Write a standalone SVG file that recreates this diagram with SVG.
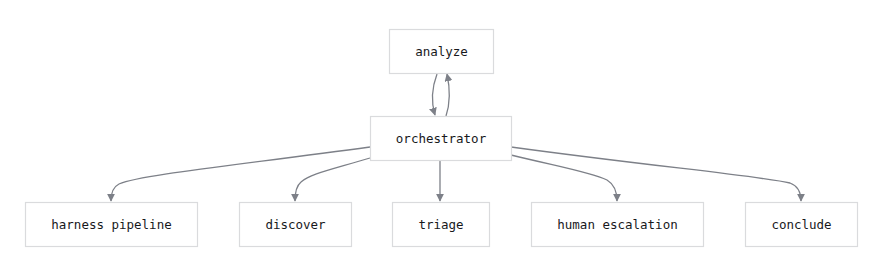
<svg xmlns="http://www.w3.org/2000/svg" width="882" height="265" viewBox="0 0 882 265">
<style>
.box{fill:#ffffff;stroke:#dadbdd;stroke-width:1.2}
.lbl{font-family:"DejaVu Sans Mono","Liberation Mono",monospace;font-size:12.5px;fill:#18191c;text-anchor:middle;dominant-baseline:central}
.edge{fill:none;stroke:#7d8088;stroke-width:1.3}
</style>
<defs>
<marker id="ah" viewBox="0 0 10 10" refX="9" refY="5" markerWidth="8" markerHeight="8" markerUnits="userSpaceOnUse" orient="auto">
<path d="M0,0 L10,5 L0,10 z" fill="#7d8088"/>
</marker>
</defs>
<rect width="882" height="265" fill="#ffffff"/>
<g id="connectors">
<path class="edge" marker-end="url(#ah)" d="M437,74 C431,90 431,102 435,115"/>
<path class="edge" marker-end="url(#ah)" d="M446,116 C450,104 450,88 447,74"/>
<path class="edge" marker-end="url(#ah)" d="M370,147 C230,166 140,175 119,184 Q111,188 111,201"/>
<path class="edge" marker-end="url(#ah)" d="M370,158 C330,170 310,174 301,182 Q295,187 295,201"/>
<path class="edge" marker-end="url(#ah)" d="M440,160 L440,201"/>
<path class="edge" marker-end="url(#ah)" d="M511,155 C560,167 590,172 607,180 Q617,186 617,201"/>
<path class="edge" marker-end="url(#ah)" d="M511,147 C650,166 760,176 790,183 Q801,187 801,201"/>
</g>
<g id="analyze"><rect class="box" x="389.5" y="29.5" width="104" height="44"/><text class="lbl" x="441.5" y="51.5">analyze</text></g>
<g id="orchestrator"><rect class="box" x="370.5" y="116.5" width="141" height="44"/><text class="lbl" x="441" y="138.5">orchestrator</text></g>
<g id="harness"><rect class="box" x="25.5" y="202.5" width="172" height="44"/><text class="lbl" x="111.5" y="224.5">harness pipeline</text></g>
<g id="discover"><rect class="box" x="239.5" y="202.5" width="112" height="44"/><text class="lbl" x="295.5" y="224.5">discover</text></g>
<g id="triage"><rect class="box" x="392.5" y="202.5" width="97" height="44"/><text class="lbl" x="441" y="224.5">triage</text></g>
<g id="human"><rect class="box" x="531.5" y="202.5" width="172" height="44"/><text class="lbl" x="617.5" y="224.5">human escalation</text></g>
<g id="conclude"><rect class="box" x="745.5" y="202.5" width="112" height="44"/><text class="lbl" x="801.5" y="224.5">conclude</text></g>
</svg>
